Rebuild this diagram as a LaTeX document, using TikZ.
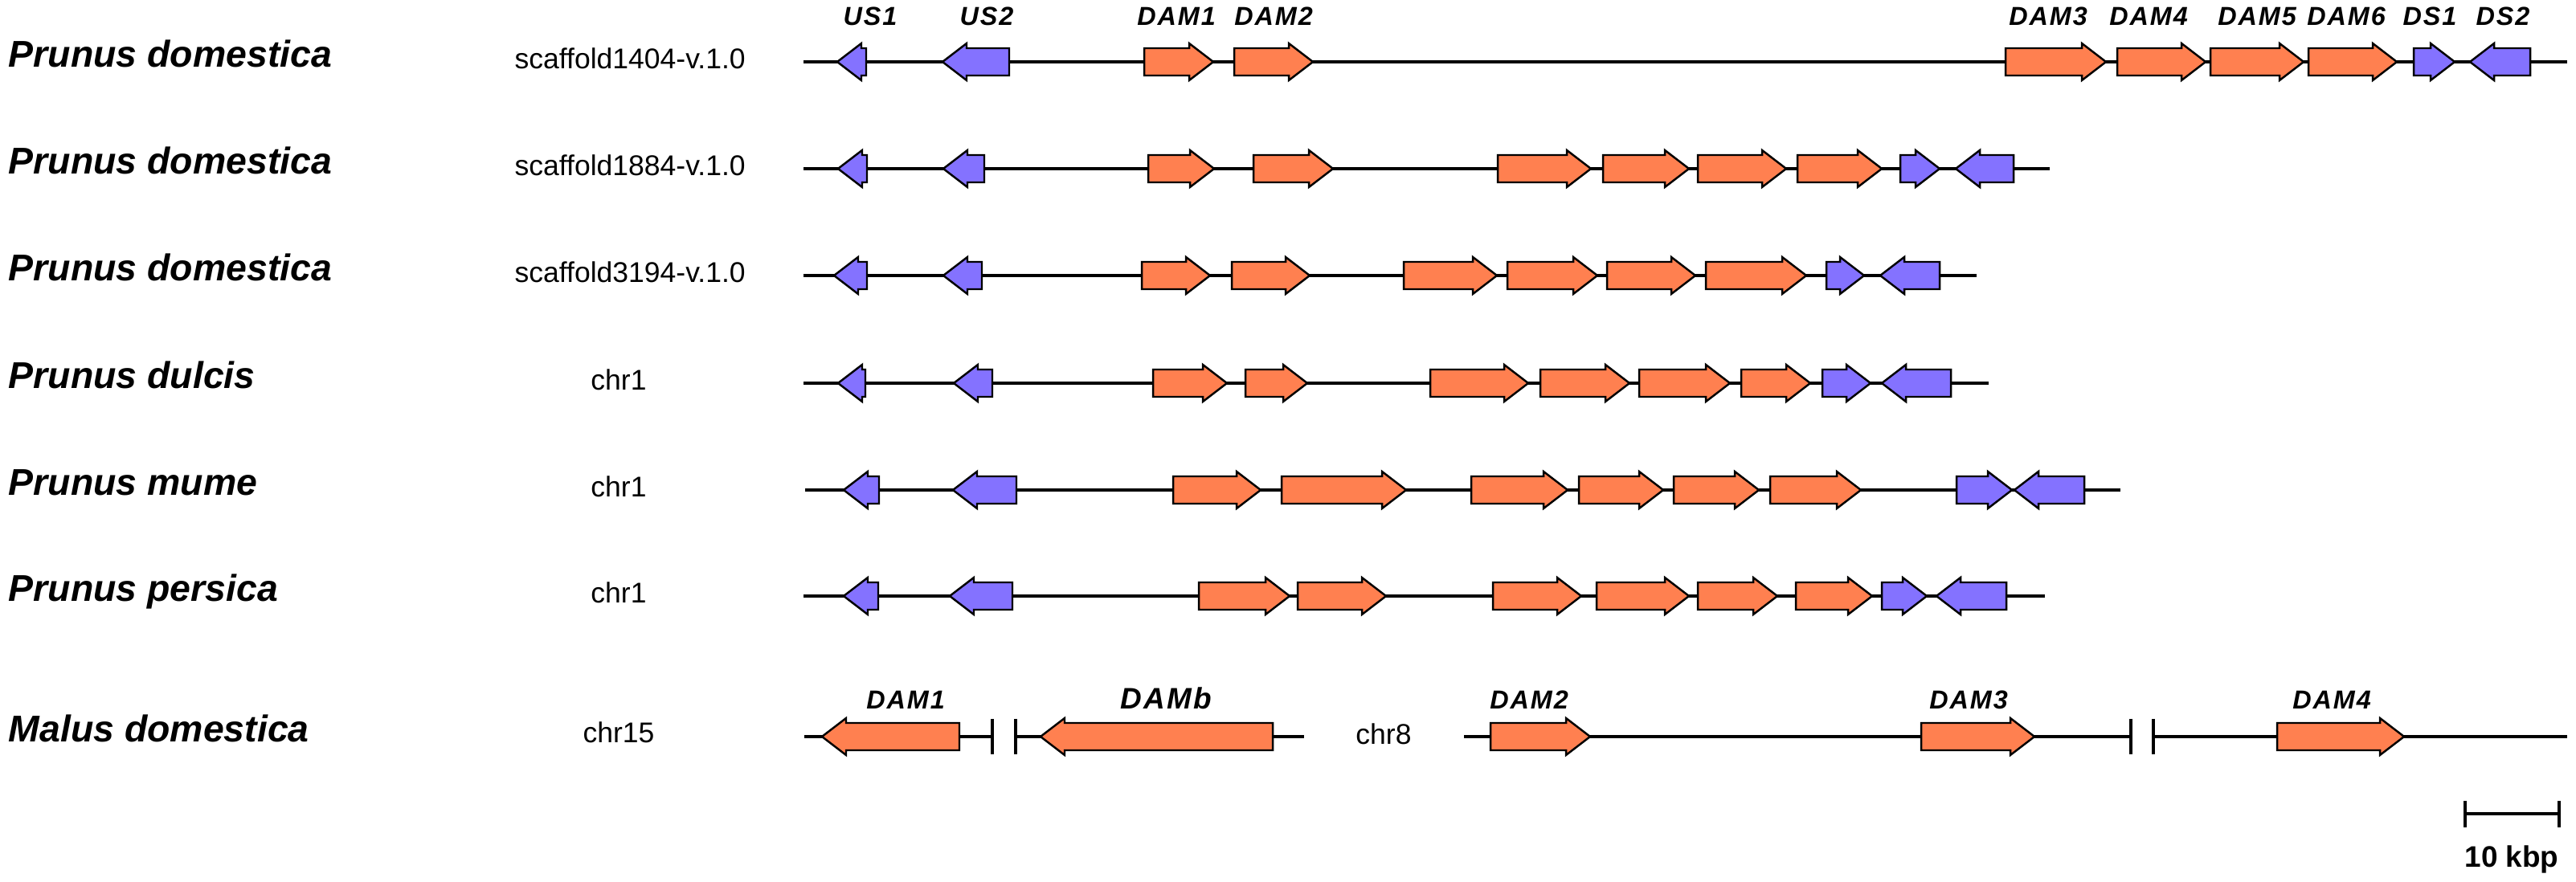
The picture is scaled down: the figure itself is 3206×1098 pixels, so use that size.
\documentclass[tikz,border=0pt]{standalone}
\usepackage{fontspec}
\setmainfont{Liberation Sans}
\newfontfamily\genefont[LetterSpace=6]{Liberation Sans}
\definecolor{damorange}{RGB}{255,128,80}
\definecolor{uspurple}{RGB}{132,114,255}
\newcommand{\geneR}[4]{% start, tip, y, colour
  \pgfmathsetmacro{\genehb}{max(#1,#2-30)}
  \draw[genebox,fill=#4] (#1,#3-17) -- (\genehb,#3-17) -- (\genehb,#3-23) -- (#2,#3) -- (\genehb,#3+23) -- (\genehb,#3+17) -- (#1,#3+17) -- cycle;}
\newcommand{\geneL}[4]{% tip, end, y, colour
  \pgfmathsetmacro{\genehb}{min(#2,#1+30)}
  \draw[genebox,fill=#4] (#2,#3-17) -- (\genehb,#3-17) -- (\genehb,#3-23) -- (#1,#3) -- (\genehb,#3+23) -- (\genehb,#3+17) -- (#2,#3+17) -- cycle;}
\tikzset{
  genebox/.style={draw=black,line width=0.7pt,line join=miter},
  backbone/.style={draw=black,line width=1pt},
  species/.style={anchor=base west,inner sep=0pt,font=\fontsize{13.2}{15}\selectfont\bfseries\itshape},
  seqlab/.style={inner sep=0pt,font=\fontsize{10.1}{12}\selectfont},
  genelab/.style={anchor=base,inner sep=0pt,font=\genefont\fontsize{9.2}{11}\selectfont\bfseries\itshape},
  damblab/.style={anchor=base,inner sep=0pt,font=\genefont\fontsize{10.5}{12}\selectfont\bfseries\itshape},
  breakmark/.style={draw=black,line width=1.1pt},
}
\begin{document}
\begin{tikzpicture}[x=0.01cm,y=-0.01cm]
\useasboundingbox (0,0) rectangle (3206,1098);
\fill[white] (0,0) rectangle (3206,1098);

% ---------- left labels ----------
\node[species] (sp1) at (10,84) {Prunus domestica};
\node[species] (sp2) at (10,217) {Prunus domestica};
\node[species] (sp3) at (10,350) {Prunus domestica};
\node[species] (sp4) at (10,484) {Prunus dulcis};
\node[species] (sp5) at (10,617) {Prunus mume};
\node[species] (sp6) at (10,749) {Prunus persica};
\node[species] (sp7) at (10,924) {Malus domestica};

\node[seqlab,anchor=base west] (sq1) at (640,86) {scaffold1404-v.1.0};
\node[seqlab,anchor=base west] (sq2) at (640,219) {scaffold1884-v.1.0};
\node[seqlab,anchor=base west] (sq3) at (640,352) {scaffold3194-v.1.0};
\node[seqlab,anchor=base] (sq4) at (770,486) {chr1};
\node[seqlab,anchor=base] (sq5) at (770,619) {chr1};
\node[seqlab,anchor=base] (sq6) at (770,751) {chr1};
\node[seqlab,anchor=base] (sq7) at (770,925) {chr15};
\node[seqlab,anchor=base] (sq8) at (1722,926) {chr8};

% ---------- backbones ----------
\draw[backbone] (1000,77) -- (3195,77);
\draw[backbone] (1000,210) -- (2551,210);
\draw[backbone] (1000,343) -- (2460,343);
\draw[backbone] (1000,477) -- (2475,477);
\draw[backbone] (1002,610) -- (2639,610);
\draw[backbone] (1000,742) -- (2545,742);
\draw[backbone] (1001,917) -- (1235,917);
\draw[backbone] (1264,917) -- (1623,917);
\draw[backbone] (1822,917) -- (2652,917);
\draw[backbone] (2680,917) -- (3195,917);
\draw[breakmark] (1235,895) -- (1235,939);
\draw[breakmark] (1264,895) -- (1264,939);
\draw[breakmark] (2652,895) -- (2652,939);
\draw[breakmark] (2680,895) -- (2680,939);

% ---------- row 1 ----------
\geneL{1042}{1078}{77}{uspurple}
\geneL{1173}{1256}{77}{uspurple}
\geneR{1424}{1510}{77}{damorange}
\geneR{1536}{1634}{77}{damorange}
\geneR{2496}{2621}{77}{damorange}
\geneR{2635}{2745}{77}{damorange}
\geneR{2751}{2867}{77}{damorange}
\geneR{2873}{2983}{77}{damorange}
\geneR{3004}{3055}{77}{uspurple}
\geneL{3074}{3149}{77}{uspurple}
\node[genelab] (l1) at (1083,32) {US1};
\node[genelab] (l2) at (1228,32) {US2};
\node[genelab] (l3) at (1464,32) {DAM1};
\node[genelab] (l4) at (1585,32) {DAM2};
\node[genelab] (l5) at (2549,32) {DAM3};
\node[genelab] (l6) at (2674,32) {DAM4};
\node[genelab] (l7) at (2809,32) {DAM5};
\node[genelab] (l8) at (2920,32) {DAM6};
\node[genelab] (l9) at (3024,32) {DS1};
\node[genelab] (l10) at (3115,32) {DS2};

% ---------- row 2 ----------
\geneL{1043}{1079}{210}{uspurple}
\geneL{1174}{1225}{210}{uspurple}
\geneR{1429}{1511}{210}{damorange}
\geneR{1560}{1659}{210}{damorange}
\geneR{1864}{1980}{210}{damorange}
\geneR{1995}{2102}{210}{damorange}
\geneR{2113}{2223}{210}{damorange}
\geneR{2237}{2342}{210}{damorange}
\geneR{2365}{2414}{210}{uspurple}
\geneL{2434}{2506}{210}{uspurple}

% ---------- row 3 ----------
\geneL{1038}{1079}{343}{uspurple}
\geneL{1174}{1222}{343}{uspurple}
\geneR{1421}{1506}{343}{damorange}
\geneR{1533}{1630}{343}{damorange}
\geneR{1747}{1863}{343}{damorange}
\geneR{1876}{1988}{343}{damorange}
\geneR{2000}{2110}{343}{damorange}
\geneR{2123}{2248}{343}{damorange}
\geneR{2273}{2320}{343}{uspurple}
\geneL{2340}{2414}{343}{uspurple}

% ---------- row 4 ----------
\geneL{1043}{1077}{477}{uspurple}
\geneL{1187}{1235}{477}{uspurple}
\geneR{1435}{1527}{477}{damorange}
\geneR{1550}{1627}{477}{damorange}
\geneR{1780}{1902}{477}{damorange}
\geneR{1917}{2028}{477}{damorange}
\geneR{2040}{2153}{477}{damorange}
\geneR{2167}{2253}{477}{damorange}
\geneR{2268}{2328}{477}{uspurple}
\geneL{2342}{2428}{477}{uspurple}

% ---------- row 5 ----------
\geneL{1050}{1094}{610}{uspurple}
\geneL{1186}{1265}{610}{uspurple}
\geneR{1460}{1569}{610}{damorange}
\geneR{1595}{1750}{610}{damorange}
\geneR{1831}{1951}{610}{damorange}
\geneR{1965}{2070}{610}{damorange}
\geneR{2083}{2189}{610}{damorange}
\geneR{2203}{2316}{610}{damorange}
\geneR{2435}{2504}{610}{uspurple}
\geneL{2507}{2594}{610}{uspurple}

% ---------- row 6 ----------
\geneL{1050}{1093}{742}{uspurple}
\geneL{1182}{1260}{742}{uspurple}
\geneR{1492}{1605}{742}{damorange}
\geneR{1615}{1725}{742}{damorange}
\geneR{1858}{1968}{742}{damorange}
\geneR{1987}{2102}{742}{damorange}
\geneR{2113}{2212}{742}{damorange}
\geneR{2235}{2330}{742}{damorange}
\geneR{2342}{2398}{742}{uspurple}
\geneL{2410}{2497}{742}{uspurple}

% ---------- row 7 (Malus) ----------
\geneL{1023}{1194}{917}{damorange}
\geneL{1295}{1584}{917}{damorange}
\geneR{1855}{1979}{917}{damorange}
\geneR{2391}{2532}{917}{damorange}
\geneR{2834}{2992}{917}{damorange}
\node[genelab] (m1) at (1127,883) {DAM1};
\node[damblab] (m2) at (1451,883) {DAMb};
\node[genelab] (m3) at (1903,883) {DAM2};
\node[genelab] (m4) at (2450,883) {DAM3};
\node[genelab] (m5) at (2902,883) {DAM4};

% ---------- scale bar ----------
\coordinate (sbl) at (3068,1013);
\coordinate (sbr) at (3185,1013);
\draw[line width=1.1pt] (sbl) -- (sbr);
\draw[line width=1.1pt] (3068,997) -- (3068,1030);
\draw[line width=1.1pt] (3185,997) -- (3185,1030);
\node[anchor=base,inner sep=0pt,font=\fontsize{10.5}{12}\selectfont\bfseries] (sbt) at (3126,1080) {10 kbp};
\end{tikzpicture}
\end{document}
